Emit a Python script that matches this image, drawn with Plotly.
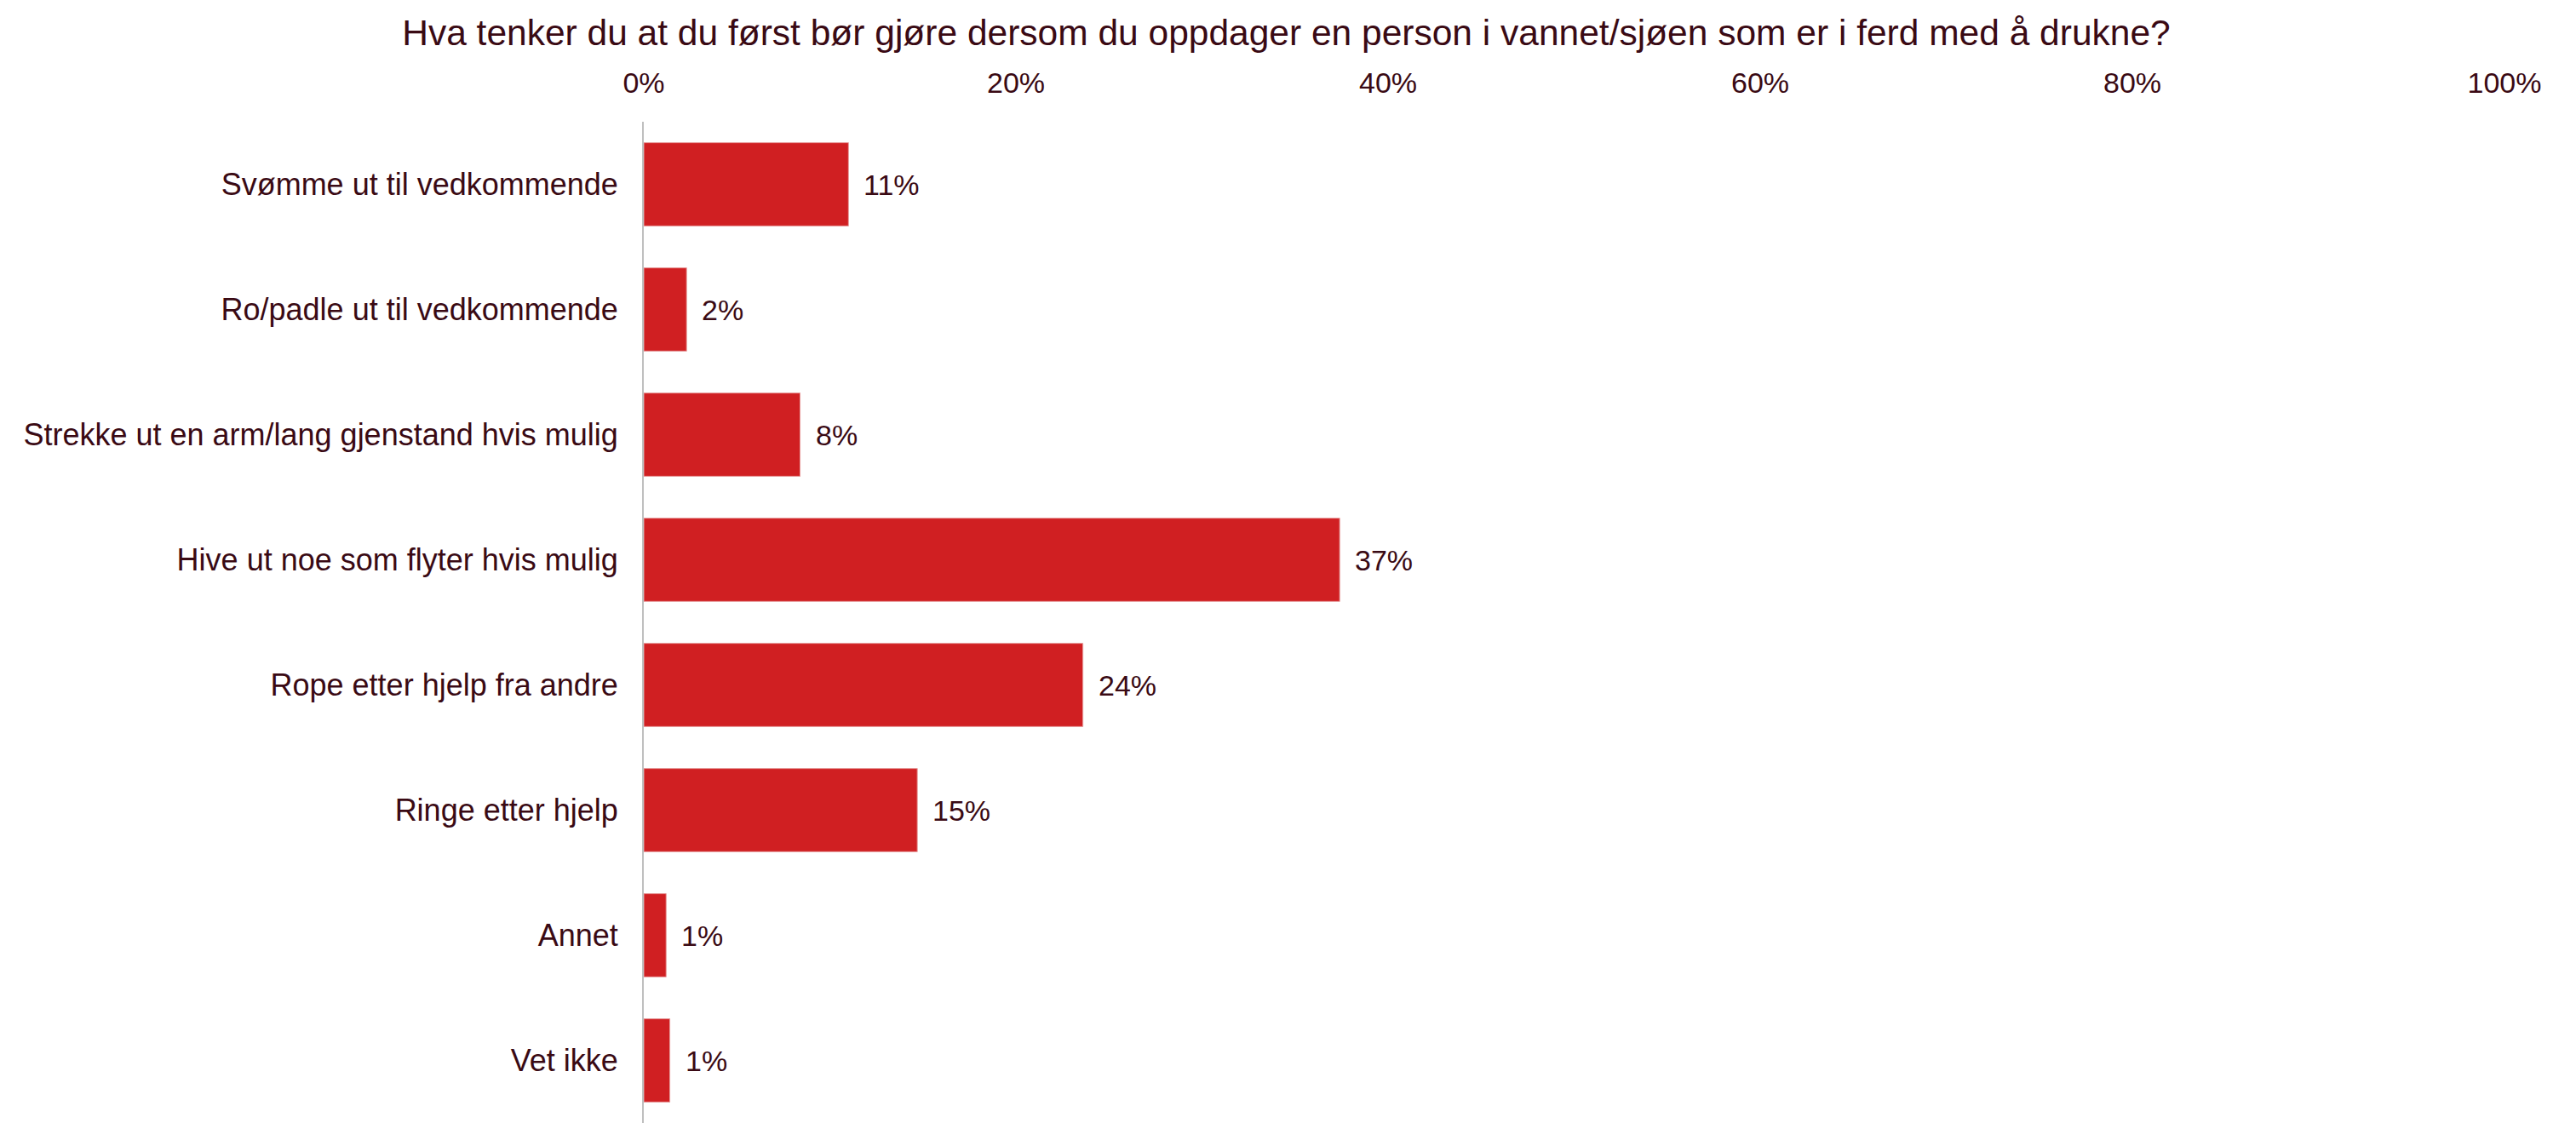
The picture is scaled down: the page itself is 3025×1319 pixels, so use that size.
import plotly.graph_objects as go

title_text = "Hva tenker du at du først bør gjøre dersom du oppdager en person i vannet/sjøen som er i ferd med å drukne?"
categories = [
    "Svømme ut til vedkommende",
    "Ro/padle ut til vedkommende",
    "Strekke ut en arm/lang gjenstand hvis mulig",
    "Hive ut noe som flyter hvis mulig",
    "Rope etter hjelp fra andre",
    "Ringe etter hjelp",
    "Annet",
    "Vet ikke",
]
values = [0.110, 0.023, 0.084, 0.374, 0.236, 0.147, 0.012, 0.014]
value_labels = ["11%", "2%", "8%", "37%", "24%", "15%", "1%", "1%"]
tick_vals = [0, 0.2, 0.4, 0.6, 0.8, 1.0]
tick_text = ["0%", "20%", "40%", "60%", "80%", "100%"]

TEXT = "#3A0A14"
FONT = "Liberation Sans, Arial, sans-serif"

fig = go.Figure()
fig.add_trace(go.Bar(
    x=values, y=categories, orientation="h",
    marker=dict(color="#D01F22", line=dict(color="#E8A0A0", width=1)),
    hoverinfo="skip",
))
for c, v, lab in zip(categories, values, value_labels):
    fig.add_annotation(x=v, y=c, text=lab, showarrow=False, xanchor="left",
                       xshift=16, font=dict(size=34, color=TEXT, family=FONT))

fig.update_layout(
    width=3017, height=1311,
    paper_bgcolor="white", plot_bgcolor="white",
    margin=dict(l=748, r=84, t=135, b=0),
    bargap=0.335,
    showlegend=False,
    title=dict(text=title_text, x=0.498, xanchor="center", y=0.977, yanchor="middle",
               font=dict(size=42.5, color=TEXT, family=FONT)),
    font=dict(family=FONT, color=TEXT, size=33),
)
fig.update_xaxes(
    range=[0, 1], side="top", tickvals=tick_vals, ticktext=tick_text,
    showgrid=False, zeroline=False, showline=False, ticks="",
    tickfont=dict(size=34, color=TEXT, family=FONT), ticklabelstandoff=26,
)
fig.update_yaxes(
    autorange="reversed", showgrid=False, zeroline=False,
    showline=True, linecolor="#BFBFBF", linewidth=2, ticks="",
    tickfont=dict(size=36, color=TEXT, family=FONT), ticklabelstandoff=21,
)

fig.write_html("out.html")
